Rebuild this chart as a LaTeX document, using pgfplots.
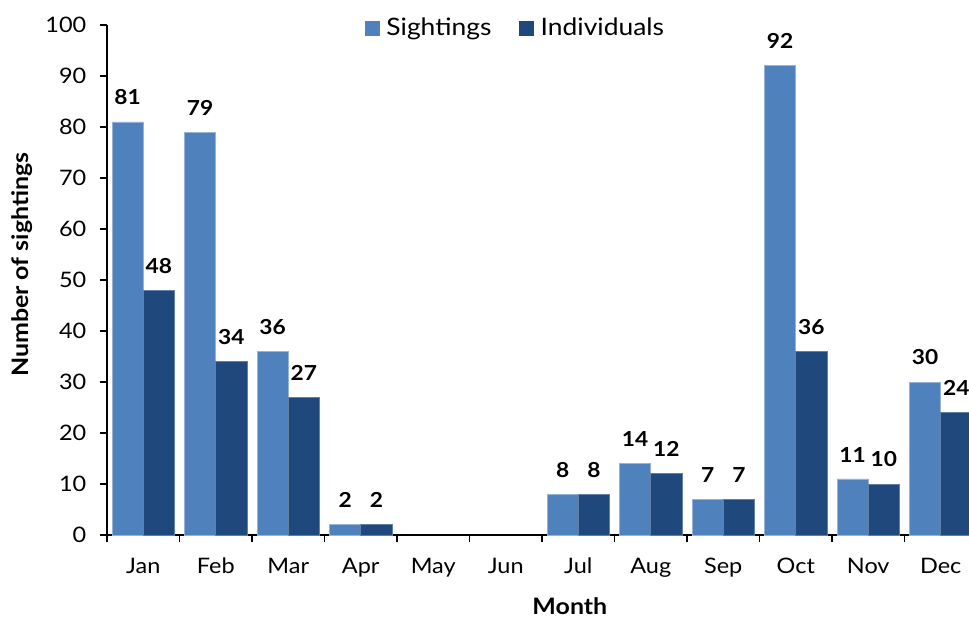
\documentclass[border=0pt]{standalone}
\usepackage{fontspec}
\setmainfont{Lato}[FakeStretch=1.1]
\usepackage{pgfplots}
\pgfplotsset{compat=1.18}
\definecolor{cA}{HTML}{4F81BD}
\definecolor{cB}{HTML}{1F497D}
\newcommand{\tickfont}{\fontsize{16}{19}\selectfont}
\newcommand{\legfont}{\fontsize{18}{21}\selectfont}
\newcommand{\titlefont}{\bfseries\fontsize{17}{20}\selectfont}
\newcommand{\valfont}{\bfseries\fontsize{15.5}{18}\selectfont}
\begin{document}
\begin{tikzpicture}
\useasboundingbox (0,0) rectangle (726.75pt,464.25pt);
\begin{axis}[
  at={(80.25pt,63pt)}, anchor=south west,
  scale only axis, width=652.5pt, height=382.5pt,
  xmin=-0.5, xmax=11.5, ymin=0, ymax=100,
  clip=false,
  axis x line*=bottom, axis y line*=left,
  axis line style={line width=1.4pt, black},
  /pgf/number format/assume math mode=true,
  ytick={0,10,...,100},
  xtick={0,...,11},
  xticklabels={Jan,Feb,Mar,Apr,May,Jun,Jul,Aug,Sep,Oct,Nov,Dec},
  major x tick style={draw=none},
  minor xtick={-0.5,0.5,...,11.5},
  tick align=outside,
  major tick length=5.5pt, minor tick length=5.5pt,
  every tick/.style={black, line width=0.9pt},
  ticklabel style={font=\tickfont},
  xticklabel style={yshift=-8pt},
  yticklabel style={xshift=-6.5pt},
  ylabel={Number of sightings},
  xlabel={Month},
  label style={font=\titlefont},
  ylabel style={at={(axis description cs:-0.097,0.53)}, anchor=center},
  xlabel style={at={(axis description cs:0.532,-0.139)}, anchor=center},
  ybar=0pt, bar width=0.43,
  nodes near coords,
  every node near coord/.append style={font=\valfont, anchor=south, inner sep=0pt, yshift=12.4pt, black},
  legend style={at={(0.47,0.994)}, anchor=center, draw=none, fill=none,
    legend columns=2, font=\legfont,
    /tikz/every even column/.append style={column sep=19pt}},
  legend image code/.code={\path[draw=none,fill=none] (0pt,0pt) rectangle (14pt,0.1pt);\fill[#1,draw=none] (0pt,-5.6pt) rectangle (11.25pt,5.6pt);},
]
\addplot[fill=cA, draw=cA!60!white, line width=0.5pt] coordinates {
  (0,81) (1,79) (2,36) (3,2) (6,8) (7,14) (8,7) (9,92) (10,11) (11,30)};
\addplot[fill=cB, draw=cB!70!white, line width=0.5pt] coordinates {
  (0,48) (1,34) (2,27) (3,2) (6,8) (7,12) (8,7) (9,36) (10,10) (11,24)};
\legend{Sightings,Individuals}
\end{axis}
\end{tikzpicture}
\end{document}
